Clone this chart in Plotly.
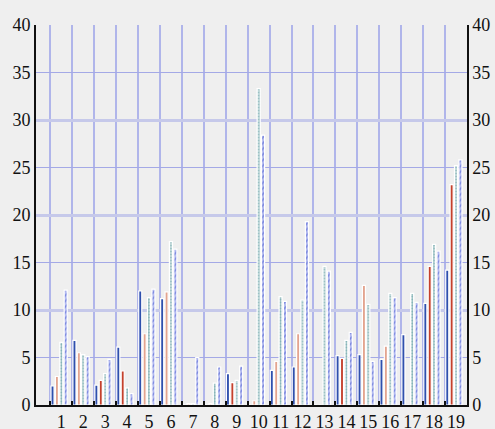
import plotly.graph_objects as go

# categories and series values
categories = [str(i) for i in range(1, 20)]

series_a = [2.0, 6.8, 2.1, 6.1, 12.0, 11.2, 0, 0, 3.3, 0, 3.65, 4.0, 0, 5.2, 5.3, 4.8, 7.4, 10.7, 14.2]
series_b = [3.0, 5.5, 2.6, 3.6, 7.5, 11.9, 0.15, 0.15, 2.35, 0.45, 4.6, 7.5, 0, 4.9, 12.6, 6.2, 0, 14.6, 23.2]
series_c = [6.6, 5.3, 3.3, 1.8, 11.3, 17.2, 0.15, 2.3, 2.6, 33.3, 11.4, 11.05, 14.6, 6.8, 10.6, 11.75, 11.75, 16.9, 25.2]
series_d = [12.1, 5.1, 4.8, 1.2, 12.2, 16.4, 5.0, 4.0, 4.1, 28.4, 10.9, 19.3, 14.1, 7.65, 4.6, 11.3, 10.8, 16.2, 25.8]
series_e = [0] * 19  # empty fifth slot in every group

# second series switches between a light and a dark red
b_colors = ['#e3a48f', '#e3a48f', '#c4412c', '#c4412c', '#e3a48f', '#e3a48f', '#e3a48f', '#e3a48f',
            '#c4412c', '#e3a48f', '#e3a48f', '#e3a48f', '#e3a48f', '#c4412c', '#e3a48f', '#e3a48f',
            '#e3a48f', '#c4412c', '#c4412c']

y_ticks = [0, 5, 10, 15, 20, 25, 30, 35, 40]

font = dict(family='Liberation Serif', size=18, color='#111111')
outline = dict(color='white', width=1.2)

fig = go.Figure()

fig.add_trace(go.Bar(x=categories, y=series_a, name='A',
                     marker=dict(color='#2f50ad', line=outline)))
fig.add_trace(go.Bar(x=categories, y=series_b, name='B',
                     marker=dict(color=b_colors, line=outline)))
fig.add_trace(go.Bar(x=categories, y=series_c, name='C',
                     marker=dict(color='#cfe0e0', line=outline,
                                 pattern=dict(shape='.', fgcolor='#3f8a92', size=3, solidity=0.5))))
fig.add_trace(go.Bar(x=categories, y=series_d, name='D',
                     marker=dict(color='#b3baf0', line=outline,
                                 pattern=dict(shape='/', fgcolor='#3e50cc', size=4, solidity=0.4))))
fig.add_trace(go.Bar(x=categories, y=series_e, name='E',
                     marker=dict(color='rgba(0,0,0,0)', line=dict(width=0))))

# empty helpers so the right-hand axis and the 10s grid get drawn
fig.add_trace(go.Scatter(x=categories[:1], y=[None], yaxis='y2', showlegend=False, hoverinfo='skip'))
fig.add_trace(go.Scatter(x=categories[:1], y=[None], yaxis='y3', showlegend=False, hoverinfo='skip'))

fig.update_layout(
    width=495,
    height=429,
    margin=dict(l=36, r=28, t=25, b=24),
    paper_bgcolor='#efefef',
    plot_bgcolor='#efefef',
    barmode='group',
    bargap=0.0,
    bargroupgap=0.3,
    showlegend=False,
    font=font,
    xaxis=dict(
        type='category',
        tickmode='array',
        tickvals=categories,
        tickson='boundaries',
        ticks='inside',
        ticklen=4,
        tickwidth=1.5,
        tickcolor='#111111',
        tickangle=0,
        showline=True,
        linecolor='#111111',
        linewidth=1.5,
        showgrid=True,
        gridcolor='#b0b5ea',
        gridwidth=1.5,
        automargin=False,
        tickfont=font,
    ),
    yaxis=dict(
        range=[0, 40],
        tickvals=y_ticks,
        showline=True,
        linecolor='#111111',
        linewidth=2,
        showgrid=True,
        gridcolor='#a4a9e6',
        gridwidth=1,
        zeroline=False,
        ticks='',
        automargin=False,
        tickfont=font,
    ),
    yaxis2=dict(
        range=[0, 40],
        tickvals=y_ticks,
        overlaying='y',
        side='right',
        showline=True,
        linecolor='#111111',
        linewidth=1.5,
        showgrid=False,
        zeroline=False,
        ticks='',
        automargin=False,
        tickfont=font,
    ),
    yaxis3=dict(
        range=[0, 40],
        dtick=10,
        overlaying='y',
        side='left',
        showticklabels=False,
        showgrid=True,
        gridcolor='#c6c9ea',
        gridwidth=2.5,
        zeroline=False,
        showline=False,
        automargin=False,
    ),
)

# drop the default 8px page margin so the figure sits at the window corner
fig.write_html("out.html", config={'displayModeBar': False},
               post_script="document.body.style.margin='0';document.body.style.background='#efefef';")
